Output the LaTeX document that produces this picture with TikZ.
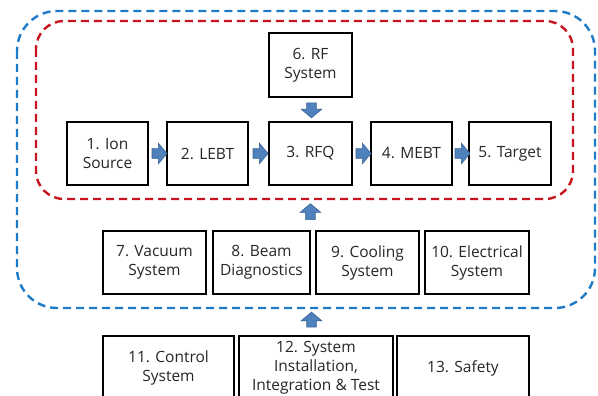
\documentclass[tikz,border=0pt]{standalone}
\usepackage{fontspec}
\setmainfont{Open Sans}
\usetikzlibrary{shapes.arrows,calc}
\definecolor{arrfill}{HTML}{4F81BD}
\definecolor{arrdraw}{HTML}{3A6496}
\definecolor{dblue}{HTML}{1F7BC8}
\definecolor{dred}{HTML}{C8141E}
\tikzset{
  blk/.style={draw=black, line width=1.4pt, align=center, inner sep=0pt,
    font=\fontsize{15.5}{19}\selectfont, text=black!85},
  barrow/.style={single arrow, fill=arrfill, draw=arrdraw, line width=0.6pt,
    inner sep=4.5pt, minimum height=15pt, single arrow head extend=5.5pt, single arrow tip angle=100},
  dashbox/.style={line width=2.4pt, dash pattern=on 8pt off 5pt},
}
\begin{document}
\begin{tikzpicture}[x=1pt,y=-1pt]
\useasboundingbox (0,0) rectangle (598,396);
\clip (0,0) rectangle (598,396);
\fill[white] (0,0) rectangle (598,396);
% dashed groupings
\draw[dashbox, dblue, rounded corners=40pt] (17,11) rectangle (595,308);
\draw[dashbox, dred, rounded corners=28pt] (36,21) rectangle (573,199);
\coordinate (redbot) at (313,199);
\coordinate (bluebot) at (313,308);
% row 1
\node[blk, minimum width=81pt, minimum height=63pt] (n1) at (107.5,153.5) {1. Ion\\Source};
\node[blk, minimum width=81pt, minimum height=63pt] (n2) at (207.5,153.5) {2. LEBT};
\node[blk, minimum width=83pt, minimum height=63pt] (n3) at (310.5,153.5) {3. RFQ};
\node[blk, minimum width=81pt, minimum height=63pt] (n4) at (411.5,153.5) {4. MEBT};
\node[blk, minimum width=82pt, minimum height=63pt] (n5) at (510,153.5) {5. Target};
\node[blk, minimum width=83pt, minimum height=64pt] (n6) at (310.5,65) {6. RF\\System};
% row 2
\node[blk, minimum width=103pt, minimum height=63pt] (n7) at (154.5,262.5) {7. Vacuum\\System};
\node[blk, minimum width=97pt, minimum height=63pt] (n8) at (261.5,262.5) {8. Beam\\Diagnostics};
\node[blk, minimum width=103pt, minimum height=63pt] (n9) at (367.5,262.5) {9. Cooling\\System};
\node[blk, minimum width=104pt, minimum height=63pt] (n10) at (477,262.5) {10. Electrical\\System};
% row 3
\node[blk, minimum width=131pt, minimum height=64pt] (n11) at (168.5,368) {11. Control\\System};
\node[blk, minimum width=154pt, minimum height=64pt] (n12) at (316,368) {12. System\\Installation,\\Integration \& Test};
\node[blk, minimum width=132pt, minimum height=64pt] (n13) at (463,368) {13. Safety};
% block arrows
\node[barrow] (a12) at ($(n1.east)!0.5!(n2.west)$) {};
\node[barrow] (a23) at ($(n2.east)!0.5!(n3.west)$) {};
\node[barrow] (a34) at ($(n3.east)!0.5!(n4.west)$) {};
\node[barrow] (a45) at ($(n4.east)!0.5!(n5.west)$) {};
\node[barrow, shape border rotate=270] (a63) at ($(n6.south)!0.45!(n3.north)+(1,0)$) {};
\node[barrow, shape border rotate=90, minimum height=16pt] (aup1) at ($(redbot)!0.47!(n8.north east)+(-1.5,0)$) {};
\node[barrow, shape border rotate=90, minimum height=15pt] (aup2) at ($(bluebot)!0.5!(n12.north)+(-3,0)$) {};
\end{tikzpicture}
\end{document}
